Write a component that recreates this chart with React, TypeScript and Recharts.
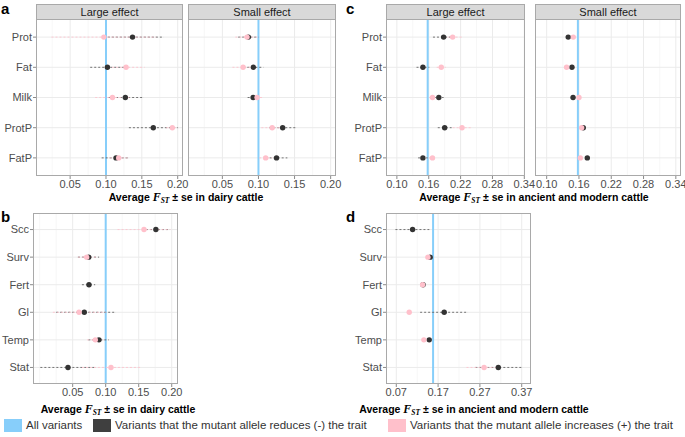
import React from 'react';
import {
  ScatterChart,
  Scatter,
  XAxis,
  YAxis,
  CartesianGrid,
  ReferenceLine,
  ErrorBar,
} from 'recharts';

// ---- data ----
const milkTraits = ['Prot', 'Fat', 'Milk', 'ProtP', 'FatP'];
const otherTraits = ['Scc', 'Surv', 'Fert', 'Gl', 'Temp', 'Stat'];

const allDairy = 0.1;
const allAncient = 0.158;

// a: dairy cattle, large effect
const aLargeRed = [0.137, 0.102, 0.127, 0.166, 0.114];
const aLargeRedLo = [0.097, 0.078, 0.103, 0.132, 0.094];
const aLargeRedHi = [0.18, 0.126, 0.152, 0.2, 0.132];
const aLargeInc = [0.097, 0.128, 0.109, 0.1925, 0.1177];
const aLargeIncLo = [0.024, 0.103, 0.085, 0.184, 0.105];
const aLargeIncHi = [0.17, 0.154, 0.133, 0.201, 0.13];

// a: dairy cattle, small effect
const aSmallRed = [0.086, 0.093, 0.0926, 0.1335, 0.125];
const aSmallRedLo = [0.072, 0.079, 0.085, 0.115, 0.11];
const aSmallRedHi = [0.1, 0.107, 0.1, 0.152, 0.14];
const aSmallInc = [0.0842, 0.0787, 0.098, 0.119, 0.11];
const aSmallIncLo = [0.068, 0.064, 0.091, 0.104, 0.101];
const aSmallIncHi = [0.1, 0.093, 0.105, 0.134, 0.119];

// c: ancient and modern, large effect
const cLargeRed = [0.188, 0.149, 0.179, 0.19, 0.149];
const cLargeRedLo = [0.168, 0.137, 0.17, 0.177, 0.14];
const cLargeRedHi = [0.208, 0.161, 0.188, 0.203, 0.158];
const cLargeInc = [0.205, 0.1836, 0.167, 0.2227, 0.167];
const cLargeIncLo = [0.188, 0.175, 0.161, 0.205, 0.16];
const cLargeIncHi = [0.222, 0.192, 0.173, 0.24, 0.174];

// c: ancient and modern, small effect
const cSmallRed = [0.14, 0.147, 0.149, 0.168, 0.1755];
const cSmallRedLo = [0.136, 0.143, 0.145, 0.164, 0.171];
const cSmallRedHi = [0.144, 0.151, 0.153, 0.172, 0.18];
const cSmallInc = [0.1495, 0.137, 0.16, 0.165, 0.1625];
const cSmallIncLo = [0.146, 0.133, 0.156, 0.161, 0.159];
const cSmallIncHi = [0.153, 0.141, 0.164, 0.169, 0.166];

// b: dairy cattle, other traits
const bRed = [0.176, 0.0742, 0.0747, 0.0676, 0.0898, 0.0429];
const bRedLo = [0.155, 0.058, 0.064, 0.025, 0.0737, 0.001];
const bRedHi = [0.197, 0.09, 0.084, 0.115, 0.105, 0.084];
const bInc = [0.158, 0.0712, null, 0.0596, 0.0843, 0.108];
const bIncLo = [0.118, 0.058, null, 0.02, 0.072, 0.064];
const bIncHi = [0.198, 0.085, null, 0.1, 0.097, 0.152];

// d: ancient and modern, other traits
const dRed = [0.109, 0.151, 0.134, 0.1846, 0.1488, 0.314];
const dRedLo = [0.068, 0.147, 0.131, 0.127, 0.145, 0.259];
const dRedHi = [0.149, 0.155, 0.137, 0.24, 0.152, 0.37];
const dInc = [null, 0.1457, 0.133, 0.101, 0.136, 0.28];
const dIncLo = [null, 0.141, 0.13, 0.097, 0.132, 0.238];
const dIncHi = [null, 0.15, 0.136, 0.105, 0.14, 0.32];

const ticksDairy = [0.05, 0.1, 0.15, 0.2];
const ticksAncient = [0.1, 0.16, 0.22, 0.28, 0.34];
const ticksAncientOther = [0.07, 0.17, 0.27, 0.37];

// ---- styling ----
const FONT = '"Liberation Sans", Arial, Helvetica, sans-serif';
const BLUE = '#87CEFA';
const DARK = '#333333';
const PINK = '#FFC0CB';
const BORDER = '#a9a9a9';

const rows = (vals: (number | null)[], lo: (number | null)[], hi: (number | null)[]) =>
  vals
    .map((v, i) =>
      v == null ? null : { x: v, y: i + 1, err: [v - (lo[i] as number), (hi[i] as number) - v] }
    )
    .filter(Boolean) as any[];

// ggplot-style minor breaks: midpoints, plus one step beyond each end
const minorBreaks = (ticks: number[], domain: number[]) => {
  const step = ticks[1] - ticks[0];
  const out: number[] = [ticks[0] - step];
  for (let k = -1; k < ticks.length; k++) out.push(ticks[0] + (k + 0.5) * step);
  out.push(ticks[ticks.length - 1] + step);
  return out.filter((v) => v >= domain[0] && v <= domain[1]);
};

const dot = (color: string) => (p: any) =>
  <circle cx={p.cx} cy={p.cy} r={2.7} fill={color} />;

type FacetProps = {
  left: number;
  top: number;
  width: number;
  height: number;
  labels: string[];
  domain: number[];
  ticks: number[];
  all: number;
  red: any[];
  inc: any[];
  yW?: number;
  strip?: string;
};

function Facet({ left, top, width, height, labels, domain, ticks, all, red, inc, yW = 0, strip }: FacetProps) {
  const xH = 18;
  const padR = 14; // room for the last tick label
  const n = labels.length;
  const idx = labels.map((_, i) => i + 1);
  return (
    <>
      {strip && (
        <div
          style={{
            position: 'absolute',
            left,
            top: top - 15,
            width,
            height: 15,
            boxSizing: 'border-box',
            background: '#d9d9d9',
            border: `1px solid ${BORDER}`,
            borderBottom: 'none',
            fontSize: 11,
            color: '#1a1a1a',
            textAlign: 'center',
            lineHeight: '14px',
          }}
        >
          {strip}
        </div>
      )}
      <div style={{ position: 'absolute', left: left - yW, top }}>
        <ScatterChart width={width + yW + padR} height={height + xH} margin={{ top: 0, right: padR, bottom: 0, left: 0 }}>
          <CartesianGrid stroke="#f3f3f3" strokeWidth={0.7} horizontal={false} verticalValues={minorBreaks(ticks, domain)} />
          <CartesianGrid stroke="#ebebeb" strokeWidth={1} horizontalValues={idx} verticalValues={ticks} />
          <XAxis
            type="number"
            dataKey="x"
            domain={domain}
            ticks={ticks}
            allowDataOverflow
            height={xH}
            axisLine={false}
            tickSize={3}
            tickMargin={1}
            tickLine={{ stroke: '#8a8a8a' }}
            tick={{ fill: '#4d4d4d', fontSize: 11 }}
            tickFormatter={(v: number) => v.toFixed(2)}
            interval={0}
          />
          <YAxis
            type="number"
            dataKey="y"
            domain={[0.4, n + 0.6]}
            ticks={idx}
            allowDataOverflow
            reversed
            hide={yW === 0}
            width={yW}
            axisLine={false}
            tickSize={3}
            tickMargin={1}
            tickLine={{ stroke: '#8a8a8a' }}
            tick={{ fill: '#4d4d4d', fontSize: 11 }}
            tickFormatter={(v: number) => labels[v - 1]}
            interval={0}
          />
          <ReferenceLine x={all} stroke={BLUE} strokeWidth={2} />
          <Scatter data={red} shape={dot(DARK)} isAnimationActive={false}>
            <ErrorBar dataKey="err" direction="x" width={0} stroke="#555" strokeWidth={0.8} strokeDasharray="2 2" />
          </Scatter>
          <Scatter data={inc} shape={dot(PINK)} isAnimationActive={false}>
            <ErrorBar dataKey="err" direction="x" width={0} stroke={PINK} strokeWidth={0.8} strokeDasharray="2 2" />
          </Scatter>
        </ScatterChart>
      </div>
      <div
        style={{
          position: 'absolute',
          left,
          top,
          width,
          height,
          boxSizing: 'border-box',
          border: `1px solid ${BORDER}`,
          pointerEvents: 'none',
        }}
      />
    </>
  );
}

const Fst = () => (
  <span style={{ fontFamily: '"Liberation Serif", "DejaVu Serif", serif', fontStyle: 'italic', fontSize: 12 }}>
    F<sub style={{ fontSize: 7.5, verticalAlign: '-2px' }}>ST</sub>
  </span>
);

function AxisTitle({ cx, top, text }: { cx: number; top: number; text: string }) {
  return (
    <div
      style={{
        position: 'absolute',
        left: cx,
        top,
        transform: 'translateX(-50%)',
        whiteSpace: 'nowrap',
        fontWeight: 'bold',
        fontSize: 10.5,
        lineHeight: '12px',
        color: '#000',
      }}
    >
      Average <Fst /> ± se in {text}
    </div>
  );
}

const PanelTag = ({ left, top, t }: { left: number; top: number; t: string }) => (
  <div style={{ position: 'absolute', left, top, fontSize: 15, fontWeight: 'bold', lineHeight: '17px' }}>{t}</div>
);

const legendItems = [
  { color: BLUE, label: 'All variants', x: 4 },
  { color: '#3f3f3f', label: 'Variants that the mutant allele reduces (-) the trait', x: 93 },
  { color: PINK, label: 'Variants that the mutant allele increases (+) the trait', x: 388 },
];

export default function App() {
  const domA = [0.0024, 0.2074];
  const domB = [-0.0101, 0.2095];
  const domCL = [0.0795, 0.3413];
  const domCR = [0.0783, 0.3496];
  const domD = [0.0454, 0.3922];

  return (
    <div
      style={{
        position: 'absolute',
        left: 0,
        top: 0,
        width: 685,
        height: 437,
        background: '#fff',
        fontFamily: FONT,
        overflow: 'hidden',
      }}
    >
      <PanelTag left={1} top={0} t="a" />
      <PanelTag left={1} top={208} t="b" />
      <PanelTag left={346} top={0} t="c" />
      <PanelTag left={346} top={208} t="d" />

      <Facet left={36} top={19} width={147} height={157} labels={milkTraits} domain={domA} ticks={ticksDairy}
        all={allDairy} red={rows(aLargeRed, aLargeRedLo, aLargeRedHi)} inc={rows(aLargeInc, aLargeIncLo, aLargeIncHi)}
        yW={36} strip="Large effect" />
      <Facet left={188} top={19} width={148} height={157} labels={milkTraits} domain={domA} ticks={ticksDairy}
        all={allDairy} red={rows(aSmallRed, aSmallRedLo, aSmallRedHi)} inc={rows(aSmallInc, aSmallIncLo, aSmallIncHi)}
        strip="Small effect" />
      <AxisTitle cx={186} top={191} text="dairy cattle" />

      <Facet left={386} top={19} width={139} height={157} labels={milkTraits} domain={domCL} ticks={ticksAncient}
        all={allAncient} red={rows(cLargeRed, cLargeRedLo, cLargeRedHi)} inc={rows(cLargeInc, cLargeIncLo, cLargeIncHi)}
        yW={40} strip="Large effect" />
      <Facet left={535} top={19} width={146} height={157} labels={milkTraits} domain={domCR} ticks={ticksAncient}
        all={allAncient} red={rows(cSmallRed, cSmallRedLo, cSmallRedHi)} inc={rows(cSmallInc, cSmallIncLo, cSmallIncHi)}
        strip="Small effect" />
      <AxisTitle cx={534} top={191} text="ancient and modern cattle" />

      <Facet left={33} top={213} width={145} height={171} labels={otherTraits} domain={domB} ticks={ticksDairy}
        all={allDairy} red={rows(bRed, bRedLo, bRedHi)} inc={rows(bInc, bIncLo, bIncHi)} yW={33} />
      <AxisTitle cx={118} top={403} text="dairy cattle" />

      <Facet left={386} top={213} width={145} height={171} labels={otherTraits} domain={domD} ticks={ticksAncientOther}
        all={allAncient} red={rows(dRed, dRedLo, dRedHi)} inc={rows(dInc, dIncLo, dIncHi)} yW={40} />
      <AxisTitle cx={474} top={403} text="ancient and modern cattle" />

      {legendItems.map((it) => (
        <div key={it.label} style={{ position: 'absolute', left: it.x, top: 419, display: 'flex', alignItems: 'center' }}>
          <div style={{ width: 18, height: 13, background: it.color }} />
          <span style={{ marginLeft: 4, fontSize: 11.5, color: '#333', whiteSpace: 'nowrap', lineHeight: '13px' }}>
            {it.label}
          </span>
        </div>
      ))}
    </div>
  );
}
